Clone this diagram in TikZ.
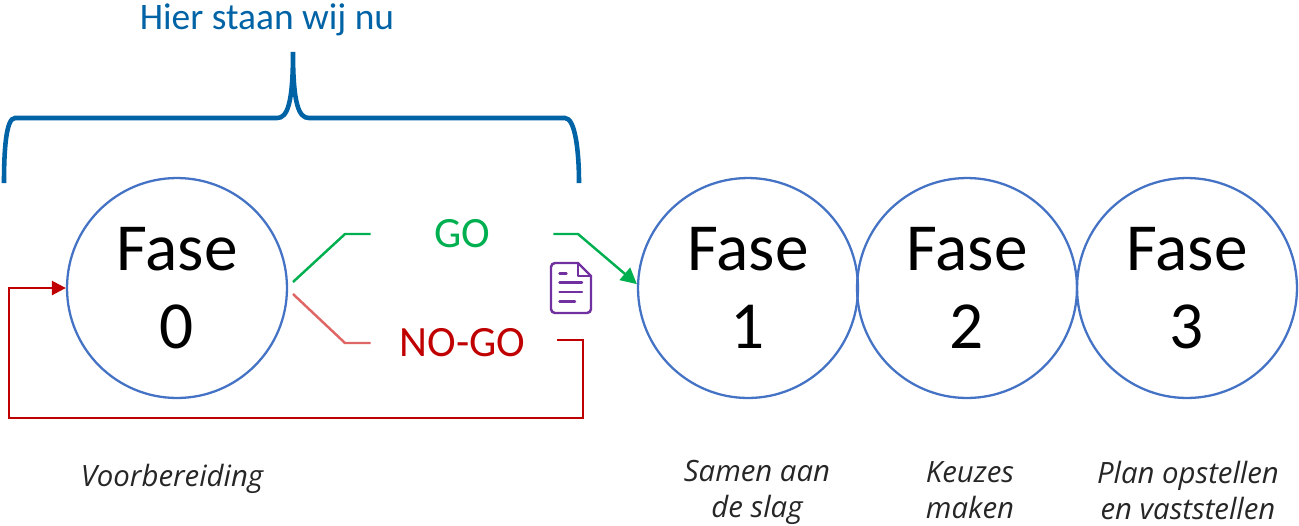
\documentclass[tikz,border=0pt]{standalone}
\usepackage{fontspec}
\setmainfont{Carlito}
\newfontfamily\labelfont{Open Sans}
\definecolor{FaseBlue}{RGB}{68, 114, 196}
\definecolor{BraceBlue}{RGB}{0, 99, 166}
\definecolor{GoGreen}{RGB}{0, 176, 80}
\definecolor{NoGoRed}{RGB}{192, 0, 0}
\definecolor{NoGoPink}{RGB}{224, 102, 102}
\definecolor{DocPurple}{RGB}{112, 48, 160}
\usetikzlibrary{arrows.meta, positioning}

\begin{document}
\begin{tikzpicture}[x=0.02cm, y=-0.02cm]
    \tikzstyle{fase} = [circle, minimum size=4.4cm, inner sep=0pt, align=center, draw=FaseBlue, line width=1.3pt, font=\fontsize{38.3}{44}\selectfont]
    \tikzstyle{keuze} = [minimum height=0.8cm, inner sep=0pt, text centered, font=\fontsize{24.6}{28}\selectfont]
    \tikzstyle{toelichting} = [align=center, inner sep=0pt, font=\labelfont\itshape\fontsize{16.7}{20.5}\selectfont, text=black!85]
    \tikzstyle{goarrow} = [GoGreen, line width=1.4pt]
    \tikzstyle{nogoarrow} = [NoGoRed, line width=1.4pt]
    \tikzstyle{docline} = [DocPurple, line width=1.4pt, line cap=round, line join=round]
    \useasboundingbox (0,0) rectangle (1299,525);

    % Nodes
    \node (fase0) [fase] at (177,288) {Fase\\0};
    \node (fase1) [fase] at (748,288) {Fase\\1};
    \node (fase2) [fase] at (967,288) {Fase\\2};
    \node (fase3) [fase] at (1187,288) {Fase\\3};
    \node (go) [keuze, minimum width=3.64cm, text=GoGreen] at (462,234) {GO};
    \node (nogo) [keuze, minimum width=3.66cm, text=NoGoRed] at (462.5,343) {NO-GO};
    \node (titel) [font=\fontsize{21.3}{25}\selectfont, text=BraceBlue, inner sep=0pt] at (267,20) {Hier staan wij nu};

    % Labels below
    \node (voorbereiding) [toelichting] at (172,479) {Voorbereiding};
    \node (samen) [toelichting] at (757,492.5) {Samen aan\\de slag};
    \node (keuzes) [toelichting] at (970,490) {Keuzes\\maken};
    \node (plan) [toelichting] at (1188,490) {Plan opstellen\\en vaststellen};

    % Connector ends
    \coordinate (gostart) at (293,282);
    \coordinate (nogostart) at (293,294);
    \coordinate (nogoend) at (557,340);

    % Arrows
    \draw [goarrow] (gostart) -- (345,234) -- (go.west);
    \draw [goarrow, -{Triangle[length=0.32cm, width=0.32cm]}] (go.east) -- (578,234) -- (fase1.178);
    \draw [NoGoPink, line width=1.4pt] (nogostart) -- (345,343) -- (nogo.west);
    \draw [nogoarrow, -{Triangle[length=0.28cm, width=0.28cm]}] (nogoend) -- (583,340) -- (583,418) -- (9,418) -- (9,288) -- (fase0.west);

    % Brace
    \draw [BraceBlue, line width=2.6pt] (4,183) .. controls (4,150) and (6,118) .. (15,118) -- (277,118)
        .. controls (287,118) and (293,105) .. (293,52) .. controls (293,105) and (299,118) .. (309,118)
        -- (565,118) .. controls (575,118) and (579,150) .. (579,183);

    % Document icon
    \draw [docline] (578,263) -- (555,263) to[out=180, in=90] (551,267) -- (551,309) to[out=-90, in=180] (555,313)
        -- (587,313) to[out=0, in=-90] (591,309) -- (591,276) -- cycle;
    \draw [docline] (578,263) -- (578,276) -- (591,276);
    \draw [docline] (559.5,273.5) -- (566.5,273.5);
    \draw [docline] (559.5,282.7) -- (582,282.7);
    \draw [docline] (559.5,292) -- (582,292);
    \draw [docline] (559.5,301.3) -- (575,301.3);
\end{tikzpicture}
\end{document}
